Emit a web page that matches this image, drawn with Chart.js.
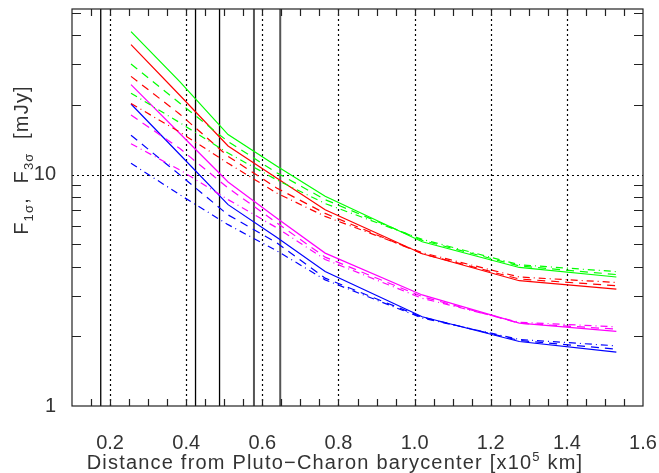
<!doctype html>
<html>
<head>
<meta charset="utf-8">
<script src="https://cdn.jsdelivr.net/npm/chart.js@4.4.0/dist/chart.umd.min.js"></script>
</head>
<body style="margin:0;background:#fff;overflow:hidden;">
<div style="width:659px;height:473px;"><canvas id="c"></canvas></div>
<script>
// distances [x10^5 km]
const xs = [0.255, 0.3825, 0.51, 0.6375, 0.765, 1.02, 1.275, 1.53];

// fluxes [mJy]
const greenSolid   = [41.5, 25.3, 14.9, 10.9, 8.06, 5.13, 3.97, 3.61];
const greenDashed  = [30.1, 20.4, 13.9, 10.2, 7.8, 5.2, 4.03, 3.70];
const greenDashDot = [22.5, 16.8, 12.4, 9.5, 7.5, 5.25, 4.08, 3.81];
const redSolid     = [36.5, 22.1, 13.3, 9.67, 7.05, 4.55, 3.48, 3.20];
const redDashed    = [26.6, 18.3, 12.0, 8.76, 6.8, 4.55, 3.54, 3.31];
const redDashDot   = [20.3, 15.3, 11.2, 8.33, 6.6, 4.6, 3.61, 3.42];
const magSolid     = [24.5, 15.1, 9.3, 6.49, 4.58, 3.02, 2.28, 2.10];
const magDashed    = [18.1, 13.0, 8.76, 6.2, 4.4, 2.97, 2.28, 2.15];
const magDashDot   = [13.6, 10.5, 7.8, 5.9, 4.3, 2.92, 2.30, 2.20];
const blueSolid    = [20.2, 12.25, 7.42, 5.36, 3.81, 2.43, 1.90, 1.71];
const blueDashed   = [14.8, 10.0, 6.7, 5.08, 3.57, 2.42, 1.92, 1.76];
const blueDashDot  = [11.2, 8.2, 6.08, 4.69, 3.51, 2.40, 1.94, 1.82];

// marker lines
const vSolid = [0.1755, 0.4245, 0.4876];
const vGray = [0.578, 0.647];
const xGrid = [0.2, 0.4, 0.6, 0.8, 1.0, 1.2, 1.4];
const yGrid = [10];
const xTickLabels = [0.2, 0.4, 0.6, 0.8, 1.0, 1.2, 1.4, 1.6];
const yTickLabels = [1, 10];

const DASH = [8, 6];
const DASHDOT = [7, 4, 1, 4];
const FONT = '"Liberation Sans"';

function series(vals, color, dash) {
    return {
        data: xs.map((x, i) => ({x: x, y: vals[i]})),
        borderColor: color,
        borderWidth: 1.2,
        borderDash: dash,
        pointRadius: 0,
        fill: false,
        tension: 0
    };
}

function noPad(s) {
    s.paddingLeft = 0; s.paddingRight = 0; s.paddingTop = 0; s.paddingBottom = 0;
}

// draws pieces of text one after another, [text, font, baseline shift]
function drawParts(ctx, parts, x, y, centre) {
    let w = 0;
    parts.forEach(p => { ctx.font = p[1]; w += ctx.measureText(p[0]).width; });
    let cx = centre ? x - w / 2 : x;
    parts.forEach(p => { ctx.font = p[1]; ctx.fillText(p[0], cx, y + p[2]); cx += ctx.measureText(p[0]).width; });
}

const frame = {
    id: 'frame',
    beforeDatasetsDraw(chart) {
        const {ctx, chartArea: a, scales: {x, y}} = chart;
        ctx.save();
        ctx.strokeStyle = '#000';
        ctx.lineWidth = 1.2;
        ctx.setLineDash([2, 3]);
        xGrid.forEach(v => {
            const px = Math.round(x.getPixelForValue(v)) + 0.5;
            ctx.beginPath(); ctx.moveTo(px, a.top); ctx.lineTo(px, a.bottom); ctx.stroke();
        });
        yGrid.forEach(v => {
            const py = Math.round(y.getPixelForValue(v)) + 0.5;
            ctx.beginPath(); ctx.moveTo(a.left, py); ctx.lineTo(a.right, py); ctx.stroke();
        });
        ctx.setLineDash([]);
        ctx.lineWidth = 1.3;
        vSolid.forEach(v => {
            const px = x.getPixelForValue(v);
            ctx.beginPath(); ctx.moveTo(px, a.top); ctx.lineTo(px, a.bottom); ctx.stroke();
        });
        ctx.strokeStyle = '#555';
        ctx.lineWidth = 2;
        vGray.forEach(v => {
            const px = x.getPixelForValue(v);
            ctx.beginPath(); ctx.moveTo(px, a.top); ctx.lineTo(px, a.bottom); ctx.stroke();
        });
        ctx.restore();
    },
    afterDraw(chart) {
        const {ctx, chartArea: a, scales: {x, y}} = chart;
        ctx.save();
        ctx.strokeStyle = '#222';
        ctx.lineWidth = 1.2;
        ctx.strokeRect(a.left, a.top, a.right - a.left, a.bottom - a.top);
        // inward ticks
        for (let v = 0.15; v < 1.6; v += 0.05) {
            const px = Math.round(x.getPixelForValue(v)) + 0.5;
            ctx.beginPath();
            ctx.moveTo(px, a.bottom); ctx.lineTo(px, a.bottom - 7);
            ctx.moveTo(px, a.top); ctx.lineTo(px, a.top + 7);
            ctx.stroke();
        }
        [2,3,4,5,6,7,8,9,20,30,40,50].forEach(v => {
            const py = Math.round(y.getPixelForValue(v)) + 0.5;
            ctx.beginPath();
            ctx.moveTo(a.left, py); ctx.lineTo(a.left + 9, py);
            ctx.moveTo(a.right, py); ctx.lineTo(a.right - 9, py);
            ctx.stroke();
        });
        // axis titles
        ctx.fillStyle = '#333';
        ctx.textBaseline = 'alphabetic';
        ctx.letterSpacing = '1.2px';
        const f = '20px ' + FONT, fs = '13px ' + FONT;
        drawParts(ctx, [['Distance from Pluto\u2212Charon barycenter [x10', f, 0], ['5', fs, -8], [' km]', f, 0]],
            335, 469, true);

        ctx.translate(28, 160);
        ctx.rotate(-Math.PI / 2);
        drawParts(ctx, [['F', f, 0], ['1\u03c3', fs, 5], [',  F', f, 0], ['3\u03c3', fs, 5], ['  [mJy]', f, 0]], 0, 0, true);
        ctx.restore();
    }
};

new Chart(document.getElementById('c'), {
    type: 'line',
    data: {
        datasets: [
            series(greenSolid, '#00ff00', []),
            series(greenDashed, '#00ff00', DASH),
            series(greenDashDot, '#00ff00', DASHDOT),
            series(redSolid, '#ff0000', []),
            series(redDashed, '#ff0000', DASH),
            series(redDashDot, '#ff0000', DASHDOT),
            series(magSolid, '#ff00ff', []),
            series(magDashed, '#ff00ff', DASH),
            series(magDashDot, '#ff00ff', DASHDOT),
            series(blueSolid, '#0000ff', []),
            series(blueDashed, '#0000ff', DASH),
            series(blueDashDot, '#0000ff', DASHDOT)
        ]
    },
    options: {
        responsive: true,
        maintainAspectRatio: false,
        animation: false,
        layout: {padding: {left: 0, right: 16, top: 9, bottom: 0}},
        plugins: {legend: {display: false}, tooltip: {enabled: false}},
        scales: {
            x: {
                type: 'linear',
                min: 0.1, max: 1.6,
                grid: {display: false},
                border: {display: false},
                afterBuildTicks: s => { s.ticks = xTickLabels.map(v => ({value: v})); },
                afterFit: s => { s.height = 67; noPad(s); },
                ticks: {
                    padding: 17,
                    color: '#333',
                    font: {family: FONT, size: 20},
                    maxRotation: 0,
                    autoSkip: false,
                    callback: v => v.toFixed(1)
                }
            },
            y: {
                type: 'logarithmic',
                min: 1, max: 52,
                grid: {display: false},
                border: {display: false},
                afterBuildTicks: s => { s.ticks = yTickLabels.map(v => ({value: v})); },
                afterFit: s => { s.width = 72; noPad(s); },
                ticks: {
                    padding: 8,
                    color: '#333',
                    font: {family: FONT, size: 20},
                    autoSkip: false,
                    callback: v => String(v)
                }
            }
        }
    },
    plugins: [frame]
});
</script>
</body>
</html>
